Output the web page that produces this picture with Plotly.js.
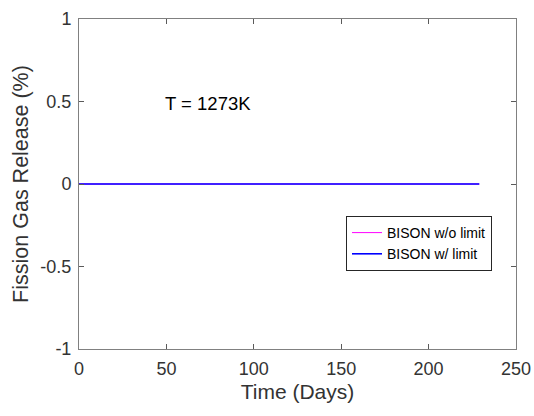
<!DOCTYPE html>
<html>
<head>
<meta charset="utf-8">
<script src="https://cdn.plot.ly/plotly-3.0.1.min.js"></script>
<style>html,body{margin:0;padding:0;background:#fff;}#chart{width:534px;height:416px;}</style>
</head>
<body>
<div id="chart"></div>
<script>
const timeDays = [0, 25, 50, 75, 100, 125, 150, 175, 200, 229];
const fgrNoLimit = [0, 0, 0, 0, 0, 0, 0, 0, 0, 0];
const fgrLimit = [0, 0, 0, 0, 0, 0, 0, 0, 0, 0];
const seriesNames = ["BISON w/o limit", "BISON w/ limit"];
const xTicks = [0, 50, 100, 150, 200, 250];
const yTicks = [-1, -0.5, 0, 0.5, 1];
const annotationText = "T = 1273K";

const font = "Liberation Sans, Arial, sans-serif";
const axisCommon = {
  showgrid: false, zeroline: false, showline: true, mirror: 'ticks',
  linecolor: '#808080', linewidth: 1, ticks: 'inside', ticklen: 5,
  tickcolor: '#5a5a5a', ticklabelstandoff: 3,
  tickfont: {family: font, size: 18, color: '#333333'}
};
const data = [
  {x: timeDays, y: fgrNoLimit, name: seriesNames[0], mode: 'lines', line: {color: '#ff00ff', width: 1}},
  {x: timeDays, y: fgrLimit, name: seriesNames[1], mode: 'lines', line: {color: '#0000ff', width: 1.6}}
];
const layout = {
  width: 534, height: 416,
  margin: {l: 79, r: 18, t: 19, b: 67},
  paper_bgcolor: '#fff', plot_bgcolor: '#fff',
  showlegend: true,
  legend: {x: (346 - 79) / 437, y: 1 - (216 - 19) / 330, xref: 'paper', yref: 'paper', xanchor: 'left', yanchor: 'top',
    bgcolor: '#fff', bordercolor: '#262626', borderwidth: 1,
    font: {family: font, size: 14, color: '#000'}, tracegroupgap: 0, itemwidth: 30},
  xaxis: Object.assign({}, axisCommon, {range: [0, 250], tickvals: xTicks, ticktext: xTicks.map(String),
    title: {text: 'Time (Days)', font: {family: font, size: 21, color: '#333333'}, standoff: 6}}),
  yaxis: Object.assign({}, axisCommon, {range: [-1, 1], tickvals: yTicks, ticktext: yTicks.map(String),
    title: {text: 'Fission Gas Release (%)', font: {family: font, size: 21.5, color: '#333333'}, standoff: 5}}),
  annotations: [{x: 49, y: 0.485, xref: 'x', yref: 'y', text: annotationText, showarrow: false,
    xanchor: 'left', yanchor: 'middle', xshift: -2, font: {family: font, size: 18.5, color: '#000'}}]
};
Plotly.newPlot('chart', data, layout, {displayModeBar: false, staticPlot: true});
</script>
</body>
</html>
